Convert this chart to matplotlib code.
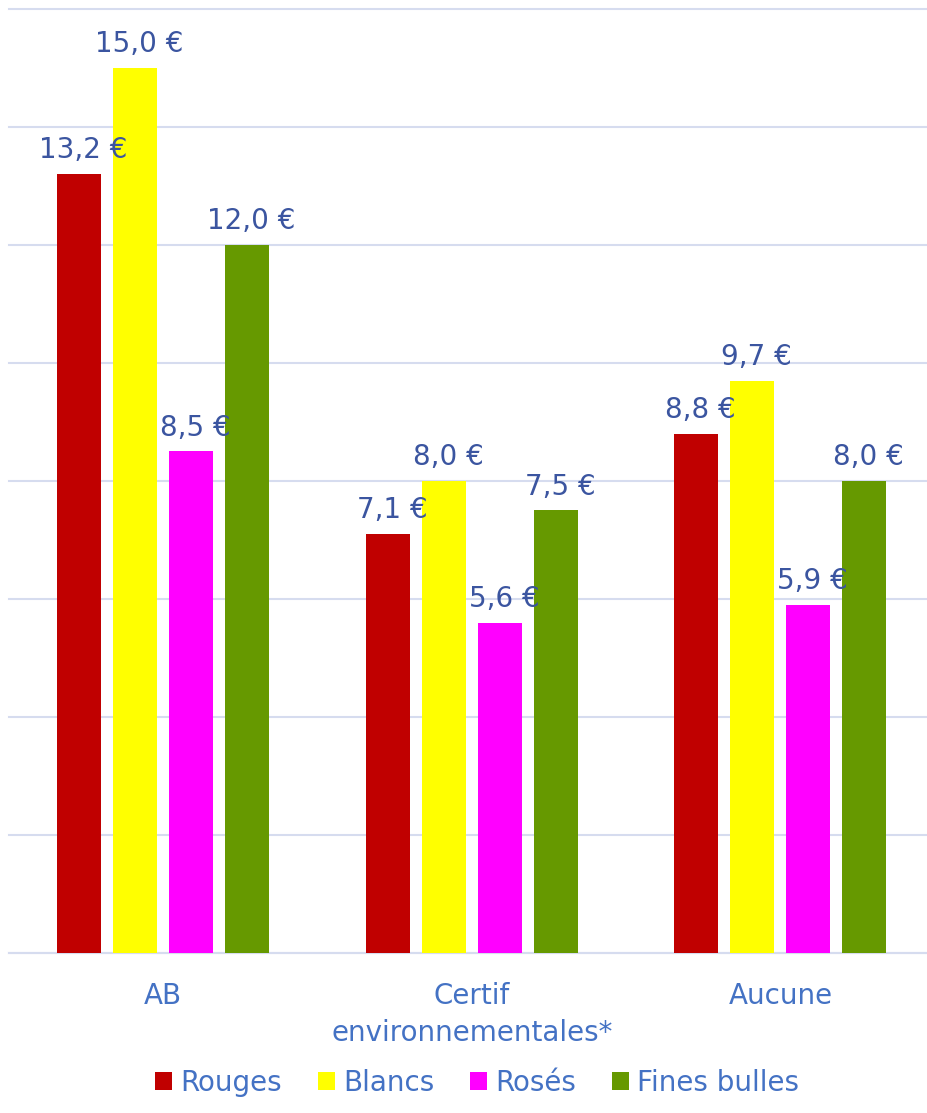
import matplotlib
matplotlib.use("Agg")
import matplotlib.pyplot as plt
import numpy as np

# data
categories = ["AB", "Certif\nenvironnementales*", "Aucune"]
series = ["Rouges", "Blancs", "Rosés", "Fines bulles"]
rouges = [13.2, 7.1, 8.8]
blancs = [15.0, 8.0, 9.7]
roses = [8.5, 5.6, 5.9]
fines_bulles = [12.0, 7.5, 8.0]
values = [rouges, blancs, roses, fines_bulles]
colors = ["#C00000", "#FFFF00", "#FF00FF", "#669900"]

plt.rcParams['font.family'] = ['DejaVu Sans']

fig = plt.figure(figsize=(9.27, 11.13), dpi=100)
ax = fig.add_axes([0.0097, 0.1438, 0.998, 0.8481])

x = np.arange(len(categories))
width = 0.1426
step = 0.1815

for i, (name, vals, col) in enumerate(zip(series, values, colors)):
    pos = x + (i - 1.5) * step
    ax.bar(pos, vals, width, color=col, label=name, zorder=3)
    for px, v in zip(pos, vals):
        ax.annotate(f"{v:.1f} €".replace(".", ","), (px, v),
                    xytext=(3, 11.5), textcoords="offset points",
                    ha="center", va="baseline", fontsize=20,
                    color="#3B55A0", zorder=4)

ax.set_ylim(0, 16)
ax.set_xlim(-0.5, 2.498)
ax.set_yticks(np.arange(0, 17, 2))
ax.yaxis.grid(True, color="#D6DCEF", linewidth=1.5, zorder=0)
for gl in ax.get_ygridlines():
    gl.set_clip_on(False)
ax.tick_params(axis="y", left=False, labelleft=False)
ax.tick_params(axis="x", length=0, pad=21, labelsize=20, labelcolor="#4472C4")
ax.set_xticks(x)
ax.set_xticklabels(categories)
for lbl in ax.get_xticklabels():
    lbl.set_linespacing(1.4)

for s in ["top", "right", "left"]:
    ax.spines[s].set_visible(False)
ax.spines["bottom"].set_color("#D6DCEF")
ax.spines["bottom"].set_linewidth(1.5)

leg = fig.legend(loc="lower center", bbox_to_anchor=(0.515, -0.008), ncol=4,
                 frameon=False, fontsize=20, handlelength=0.6, handleheight=0.6,
                 handletextpad=0.3, columnspacing=1.3)
for t in leg.get_texts():
    t.set_color("#4472C4")

fig.savefig("out.png", dpi=100)
